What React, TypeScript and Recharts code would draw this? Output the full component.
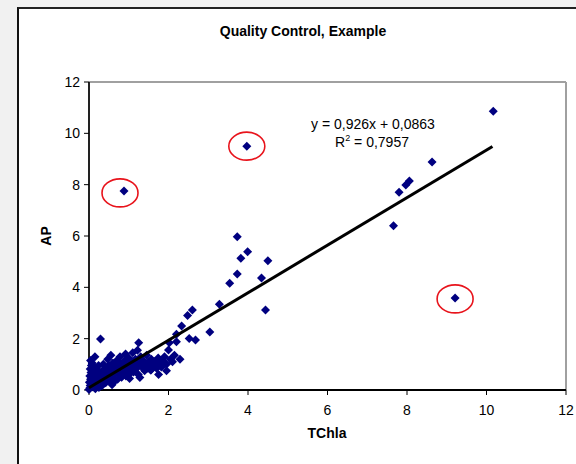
import React from 'react';
import { ScatterChart, Scatter, XAxis, YAxis, ReferenceLine, ReferenceDot } from 'recharts';

const xTicks = [0, 2, 4, 6, 8, 10, 12];
const yTicks = [0, 2, 4, 6, 8, 10, 12];

const clusterPoints: [number, number][] = [
  [0, 0.02], [0.02, 0.08], [0.03, 0.18], [0.01, 0.3], [0.04, 0.42], [0.02, 0.55], [0.05, 0.68], [0.03, 0.82],
  [0.06, 0.95], [0.08, 1.05], [0.04, 1.15], [0.1, 0.12], [0.12, 0.28], [0.09, 0.5], [0.11, 0.7], [0.14, 0.88],
  [0.16, 0.05], [0.18, 0.2], [0.2, 0.36], [0.17, 0.6], [0.22, 0.78], [0.25, 0.1], [0.27, 0.3], [0.29, 0.5],
  [0.24, 0.95], [0.3, 0.68], [0.33, 0.18], [0.35, 0.4], [0.38, 0.62], [0.4, 0.85], [0.36, 1.0], [0.42, 0.28],
  [0.45, 0.5], [0.48, 0.72], [0.5, 0.95], [0.47, 1.2], [0.52, 0.35], [0.55, 0.58], [0.57, 0.8], [0.6, 1.05],
  [0.62, 0.3], [0.63, 0.45], [0.66, 0.68], [0.68, 0.9], [0.7, 1.15], [0.58, 0.2], [0.72, 0.42], [0.74, 0.62],
  [0.77, 0.85], [0.8, 1.0], [0.78, 1.3], [0.82, 0.5], [0.85, 0.72], [0.87, 0.92], [0.9, 1.15], [0.92, 1.4],
  [0.93, 0.55], [0.96, 0.8], [0.98, 1.02], [1.0, 1.25], [1.02, 0.45], [1.04, 0.65], [1.06, 0.9], [1.08, 1.1],
  [1.1, 1.45], [1.12, 0.7], [1.14, 1.0], [1.17, 1.2], [1.2, 0.85], [1.22, 1.55], [1.24, 0.6], [1.25, 1.84],
  [1.27, 1.05], [1.28, 0.49], [1.3, 1.3], [1.33, 0.9], [1.36, 1.15], [1.4, 0.75], [1.42, 1.0], [1.45, 1.35],
  [1.48, 0.85], [1.5, 1.1], [1.55, 0.78], [1.57, 1.2], [1.6, 0.95], [1.65, 1.1], [1.7, 0.85], [1.74, 1.25],
  [1.78, 1.0], [1.82, 0.9], [1.87, 1.13], [1.9, 1.3], [1.95, 1.0], [2.0, 1.56], [2.02, 1.84], [2.05, 1.2],
  [2.1, 1.1], [2.15, 1.35], [2.2, 1.88], [2.2, 2.17], [2.29, 1.2], [2.33, 2.49], [2.52, 2.01], [2.68, 1.95],
  [1.56, 0.78], [0.15, 1.3], [0.55, 1.35], [1.75, 0.6], [1.95, 0.75],
];

const upperPoints: [number, number][] = [
  [0.29, 1.99], [2.48, 2.9], [2.6, 3.12], [3.04, 2.26], [3.28, 3.34], [3.54, 4.16], [3.73, 4.52], [3.73, 5.97],
  [3.82, 5.13], [3.99, 5.39], [4.34, 4.36], [4.44, 3.12], [4.5, 5.04], [7.66, 6.4], [7.8, 7.7], [7.97, 7.99],
  [8.06, 8.14], [8.63, 8.88], [10.17, 10.86],
];

const outlierPoints: [number, number][] = [[0.88, 7.75], [3.97, 9.5], [9.21, 3.58]];
const circleCenters: [number, number][] = [[0.78, 7.68], [3.97, 9.5], [9.21, 3.55]];

const slope = 0.926;
const intercept = 0.0863;
const trendXRange = [0, 10.15];

const allData = [...clusterPoints, ...upperPoints, ...outlierPoints].map(([x, y]) => ({ x, y }));
const trendData = trendXRange.map((x) => ({ x, y: slope * x + intercept }));

const Diamond = (props: any) => {
  const { cx, cy } = props;
  const r = 4.5;
  return (
    <polygon
      points={`${cx},${cy - r} ${cx + r},${cy} ${cx},${cy + r} ${cx - r},${cy}`}
      fill="#000080"
    />
  );
};

const NoMark = () => <g />;

const Ellipse = (props: any) => (
  <ellipse cx={props.cx} cy={props.cy} rx={18} ry={14} fill="none" stroke="#e8141c" strokeWidth={1.6} />
);

const font = "'Liberation Sans', Arial, sans-serif";

export default function App() {
  return (
    <div style={{ position: 'absolute', left: 0, top: 0, width: 576, height: 464, background: '#f1f1f1', overflow: 'hidden', fontFamily: font }}>
      <div
        style={{
          position: 'absolute',
          left: 17,
          top: 7,
          width: 700,
          height: 600,
          background: '#ffffff',
          borderLeft: '2px solid #111',
          borderTop: '2px solid #222',
        }}
      />
      <div style={{ position: 'absolute', left: 0, top: 0 }}>
        <ScatterChart width={576} height={464} margin={{ top: 82, right: 10, bottom: 0, left: 0 }}>
          <XAxis
            type="number"
            dataKey="x"
            domain={[0, 12]}
            ticks={xTicks}
            interval={0}
            height={74}
            tickSize={5}
            tickMargin={10}
            axisLine={{ stroke: '#000', strokeWidth: 2 }}
            tickLine={{ stroke: '#000' }}
            tick={{ fill: '#000', fontSize: 14, fontFamily: font }}
          />
          <YAxis
            type="number"
            dataKey="y"
            domain={[0, 12]}
            ticks={yTicks}
            interval={0}
            width={89}
            tickSize={5}
            tickMargin={4}
            axisLine={{ stroke: '#222', strokeWidth: 2 }}
            tickLine={{ stroke: '#000' }}
            tick={{ fill: '#000', fontSize: 14, fontFamily: font }}
          />
          <ReferenceLine y={12} stroke="#a0a0a0" strokeWidth={2} />
          <ReferenceLine x={12} stroke="#a0a0a0" strokeWidth={2} />
          <Scatter data={allData} shape={<Diamond />} isAnimationActive={false} />
          <Scatter
            data={trendData}
            line={{ stroke: '#000', strokeWidth: 3 }}
            shape={<NoMark />}
            isAnimationActive={false}
          />
          {circleCenters.map(([x, y], i) => (
            <ReferenceDot key={i} x={x} y={y} r={14} shape={(p: any) => <Ellipse {...p} />} />
          ))}
        </ScatterChart>
      </div>
      <svg
        width={576}
        height={464}
        style={{ position: 'absolute', left: 0, top: 0, pointerEvents: 'none' }}
      >
        <text x={303} y={36} textAnchor="middle" fontSize={14} fontWeight="bold" fontFamily={font} fill="#000">
          Quality Control, Example
        </text>
        <text x={373} y={129} textAnchor="middle" fontSize={14} fontFamily={font} fill="#000">
          y = 0,926x + 0,0863
        </text>
        <text x={372} y={147} textAnchor="middle" fontSize={14} fontFamily={font} fill="#000">
          R<tspan fontSize={9} dy={-6}>2</tspan><tspan dy={6}> = 0,7957</tspan>
        </text>
        <text x={327} y={438} textAnchor="middle" fontSize={14} fontWeight="bold" fontFamily={font} fill="#000">
          TChla
        </text>
        <text
          x={51}
          y={236}
          textAnchor="middle"
          fontSize={14}
          fontWeight="bold"
          fontFamily={font}
          fill="#000"
          transform="rotate(-90 51 236)"
        >
          AP
        </text>
      </svg>
    </div>
  );
}
